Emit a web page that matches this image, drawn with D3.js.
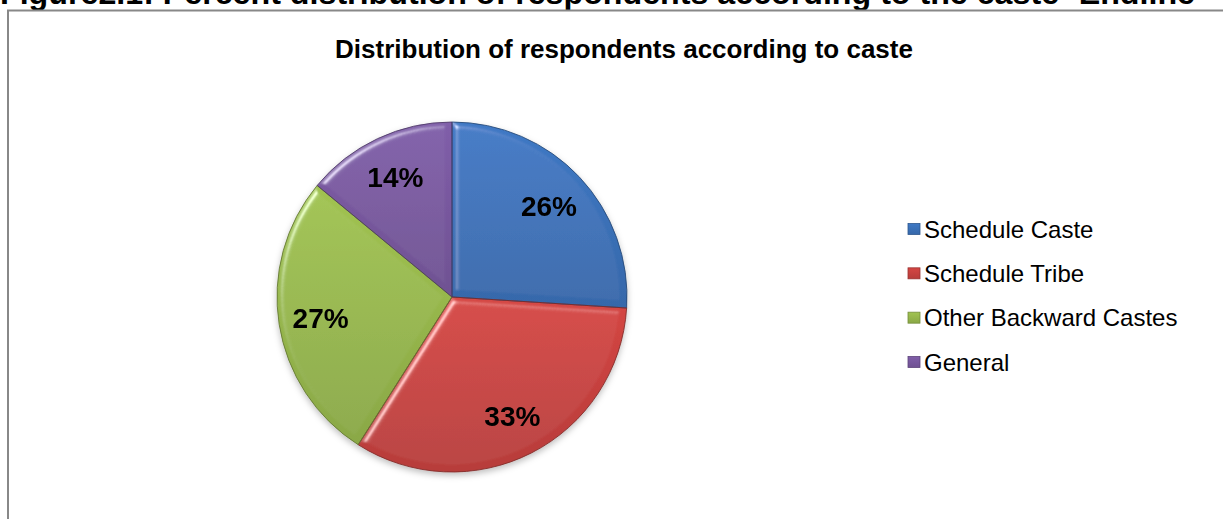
<!DOCTYPE html>
<html>
<head>
<meta charset="utf-8">
<script src="https://cdn.jsdelivr.net/npm/d3@7"></script>
<style>
  html, body { margin: 0; padding: 0; background: #ffffff; }
  svg { display: block; }
  text { font-family: "Liberation Sans", Arial, Helvetica, sans-serif; fill: #000; }
</style>
</head>
<body>
<svg id="chart" width="1223" height="519"></svg>
<script>
// Caste distribution of respondents (percent)
const categories = ["Schedule Caste", "Schedule Tribe", "Other Backward Castes", "General"];
const values = [26, 33, 27, 14];
const valueLabels = ["26%", "33%", "27%", "14%"];
const sliceColors = ["#3c74bd", "#cc4340", "#9abb4e", "#7b5aa2"];

const headingText = "Figure2.1: Percent distribution of respondents according to the caste- Endline";
const chartTitle = "Distribution of respondents according to caste";

const W = 1223, H = 519;
const svg = d3.select("#chart");
const defs = svg.append("defs");

// Soft bevel applied to each wedge
const bevel = defs.append("filter").attr("id", "bevel")
  .attr("x", "-5%").attr("y", "-5%").attr("width", "110%").attr("height", "110%");
bevel.append("feGaussianBlur").attr("in", "SourceAlpha").attr("stdDeviation", 3).attr("result", "blur");
const spec = bevel.append("feSpecularLighting").attr("in", "blur")
  .attr("surfaceScale", 4).attr("specularConstant", 0.55).attr("specularExponent", 35)
  .attr("lighting-color", "#ffffff").attr("result", "spec");
spec.append("feDistantLight").attr("azimuth", 225).attr("elevation", 40);
bevel.append("feComposite").attr("in", "spec").attr("in2", "SourceAlpha").attr("operator", "in").attr("result", "specIn");
bevel.append("feComposite").attr("in", "SourceGraphic").attr("in2", "specIn")
  .attr("operator", "arithmetic").attr("k1", 0).attr("k2", 1).attr("k3", 1).attr("k4", 0);

// Light shadow under the whole pie
const shadow = defs.append("filter").attr("id", "pieShadow")
  .attr("x", "-10%").attr("y", "-10%").attr("width", "120%").attr("height", "125%");
shadow.append("feDropShadow").attr("dx", 0).attr("dy", 3).attr("stdDeviation", 3)
  .attr("flood-color", "#000").attr("flood-opacity", 0.25);

// Vertical shading per series colour
sliceColors.forEach((c, i) => {
  const g = defs.append("linearGradient").attr("id", "grad" + i)
    .attr("x1", 0).attr("y1", 0).attr("x2", 0).attr("y2", 1);
  g.append("stop").attr("offset", "0%").attr("stop-color", d3.color(c).brighter(0.12));
  g.append("stop").attr("offset", "100%").attr("stop-color", d3.color(c).darker(0.3));
});

// Page heading above the chart frame
svg.append("text")
  .attr("x", 0).attr("y", 4)
  .attr("font-size", 32).attr("font-weight", "bold")
  .attr("textLength", 1195).attr("lengthAdjust", "spacingAndGlyphs")
  .text(headingText);

// Chart frame (runs off the right and bottom edges)
svg.append("rect")
  .attr("x", 8).attr("y", 10.5).attr("width", W + 20).attr("height", H + 20)
  .attr("fill", "none").attr("stroke", "#888888").attr("stroke-width", 2);

// Chart title
svg.append("text")
  .attr("x", 624).attr("y", 58)
  .attr("text-anchor", "middle")
  .attr("font-size", 26).attr("font-weight", "bold")
  .text(chartTitle);

// Pie
const cx = 452, cy = 297, R = 175;
const pie = d3.pie().sort(null).value(d => d)(values);
const arc = d3.arc().innerRadius(0).outerRadius(R);
const labelArc = d3.arc().innerRadius(R * 0.76).outerRadius(R * 0.76);

const pieG = svg.append("g").attr("transform", `translate(${cx},${cy})`);
const wedges = pieG.append("g").attr("filter", "url(#pieShadow)");
wedges.selectAll("path.slice")
  .data(pie)
  .join("path")
  .attr("class", "slice")
  .attr("d", arc)
  .attr("fill", (d, i) => `url(#grad${i})`)
  .attr("filter", "url(#bevel)");
wedges.selectAll("path.edge")
  .data(pie)
  .join("path")
  .attr("class", "edge")
  .attr("d", arc)
  .attr("fill", "none")
  .attr("stroke", (d, i) => d3.color(sliceColors[i]).darker(1.3))
  .attr("stroke-width", 1)
  .attr("stroke-opacity", 0.85);

pieG.selectAll("text.val")
  .data(pie)
  .join("text")
  .attr("class", "val")
  .attr("transform", d => `translate(${labelArc.centroid(d)})`)
  .attr("text-anchor", "middle")
  .attr("dy", "0.36em")
  .attr("font-size", 28).attr("font-weight", "bold")
  .text((d, i) => valueLabels[i]);

// Legend
const legendY = d3.scalePoint().domain(categories).range([229, 362]);
const legend = svg.append("g");
const items = legend.selectAll("g.item")
  .data(categories)
  .join("g")
  .attr("class", "item")
  .attr("transform", d => `translate(908,${legendY(d)})`);
items.append("rect")
  .attr("x", 0).attr("y", -5.5).attr("width", 12).attr("height", 11)
  .attr("fill", (d, i) => `url(#grad${i})`)
  .attr("stroke", (d, i) => d3.color(sliceColors[i]).darker(0.8))
  .attr("stroke-width", 0.8);
items.append("text")
  .attr("x", 16).attr("y", 0).attr("dy", "0.36em")
  .attr("font-size", 24)
  .text(d => d);
</script>
</body>
</html>
